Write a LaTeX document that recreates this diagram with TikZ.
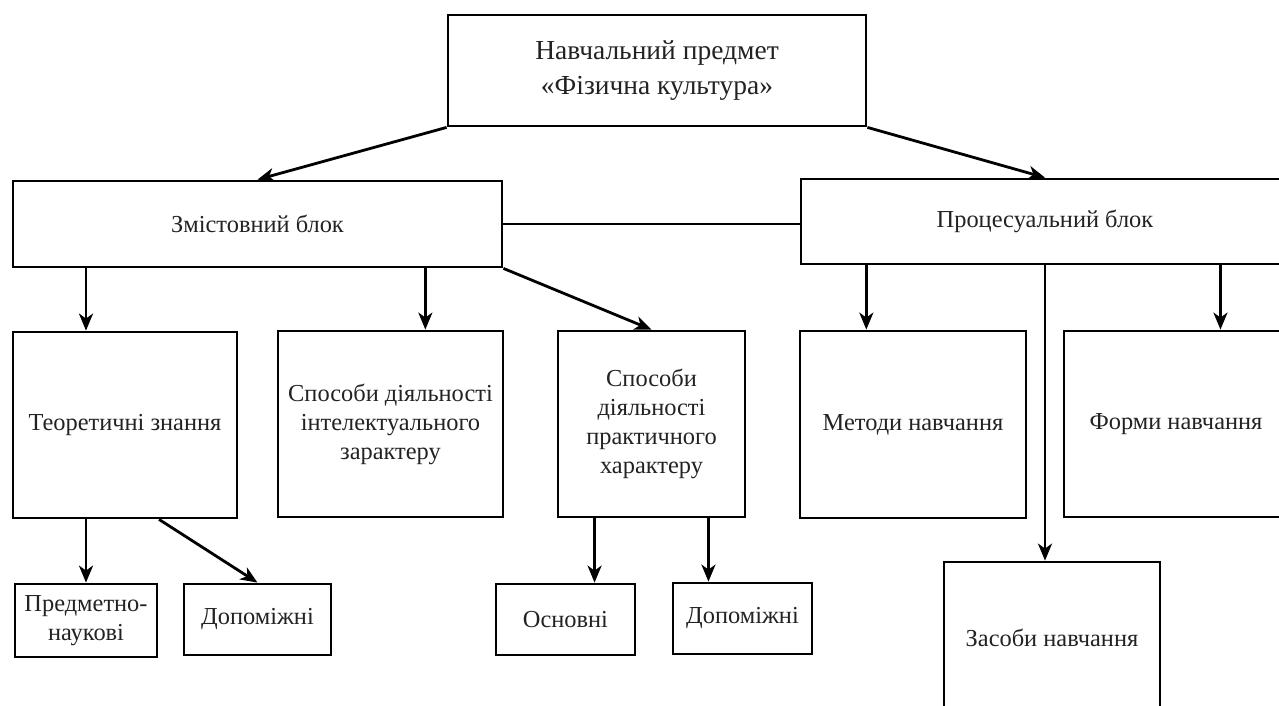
\documentclass[tikz,border=0pt]{standalone}
\usepackage{fontspec}
\setmainfont{Liberation Serif}
\usetikzlibrary{calc}
\usetikzlibrary{arrows.meta}
\usetikzlibrary{positioning}
\definecolor{inkgray}{RGB}{34, 34, 34}

\tikzset{
    blok/.style={draw=black, line width=2.8pt, inner sep=0pt, align=center, text=inkgray,
                 font=\fontsize{24.4}{29}\selectfont},
    strilka/.style={draw=black, line width=2.8pt, -{Stealth[length=17pt,width=14pt,inset=5pt]}},
    liniya/.style={draw=black, line width=2.8pt}
}

\begin{document}
\begin{tikzpicture}[x=1pt,y=-1pt]
            \useasboundingbox (0,0) rectangle (1279,706);
            \clip (0,0) rectangle (1279,706);
            % top
            \node[blok, minimum width=418pt, minimum height=111pt, font=\fontsize{27.5}{35}\selectfont]
                 (predmet) at ( 657.0,  70.5) {Навчальний предмет\\«Фізична культура»};
            % two blocks
            \node[blok, minimum width=489pt, minimum height=86pt]  (zmist)   at ( 257.5, 224.0) {Змістовний блок};
            \node[blok, minimum width=488pt, minimum height=85pt]  (proces)  at (1045.0, 221.5) {Процесуальний блок};
            % second row
            \node[blok, minimum width=224pt, minimum height=186pt] (teor)    at ( 125.0, 425.0) {Теоретичні знання};
            \node[blok, minimum width=225pt, minimum height=186pt] (intel)   at ( 390.5, 424.0) {Способи діяльності\\інтелектуального\\зарактеру};
            \node[blok, minimum width=187pt, minimum height=186pt] (prakt)   at ( 651.5, 424.0) {Способи\\діяльності\\практичного\\характеру};
            \node[blok, minimum width=226pt, minimum height=187pt] (metody)  at ( 913.0, 424.5) {Методи навчання};
            \node[blok, minimum width=224pt, minimum height=186pt] (formy)   at (1176.0, 424.0) {Форми навчання};
            \node[blok, minimum width=216pt, minimum height=152pt] (zasoby)  at (1052.0, 638.0) {Засоби навчання};
            % bottom row
            \node[blok, minimum width=142pt, minimum height=73pt]  (nauk)    at (  86.0, 620.5) {Предметно-\\наукові};
            \node[blok, minimum width=147pt, minimum height=71pt]  (dopomA)  at ( 257.5, 619.5) {Допоміжні};
            \node[blok, minimum width=139pt, minimum height=71pt]  (osnov)   at ( 565.5, 619.5) {Основні};
            \node[blok, minimum width=139pt, minimum height=71pt]  (dopomB)  at ( 742.5, 618.5) {Допоміжні};

            % connectors
            \draw[strilka] (predmet.south west) -- (zmist.north);
            \draw[strilka] (predmet.south east) -- (proces.north);
            \draw[liniya]  (zmist.east) -- (zmist.east -| proces.west);

            \coordinate (zA) at ($(intel.north west)!0.653!(intel.north east)$);
            \draw[strilka] (zmist.south -| nauk.north) -- (teor.north -| nauk.north);
            \draw[strilka] (zmist.south -| zA) -- (zA);
            \draw[strilka] (zmist.south east) -- (prakt.north);

            \coordinate (tB) at ($(teor.south west)!0.65!(teor.south east)$);
            \draw[strilka] (teor.south -| nauk.north) -- (nauk.north);
            \draw[strilka] (tB) -- (dopomA.north);

            \coordinate (pA) at ($(prakt.south west)!0.2!(prakt.south east)$);
            \coordinate (pB) at ($(prakt.south west)!0.8!(prakt.south east)$);
            \draw[strilka] (pA) -- (osnov.north -| pA);
            \draw[strilka] (pB) -- (dopomB.north -| pB);

            \coordinate (mA) at ($(metody.north west)!0.296!(metody.north east)$);
            \coordinate (fA) at ($(formy.north west)!0.696!(formy.north east)$);
            \draw[strilka] (proces.south -| mA) -- (mA);
            \draw[strilka] (proces.south -| fA) -- (fA);
            \draw[strilka] (proces.south) -- (zasoby.north -| proces.south);
        \end{tikzpicture}
\end{document}
